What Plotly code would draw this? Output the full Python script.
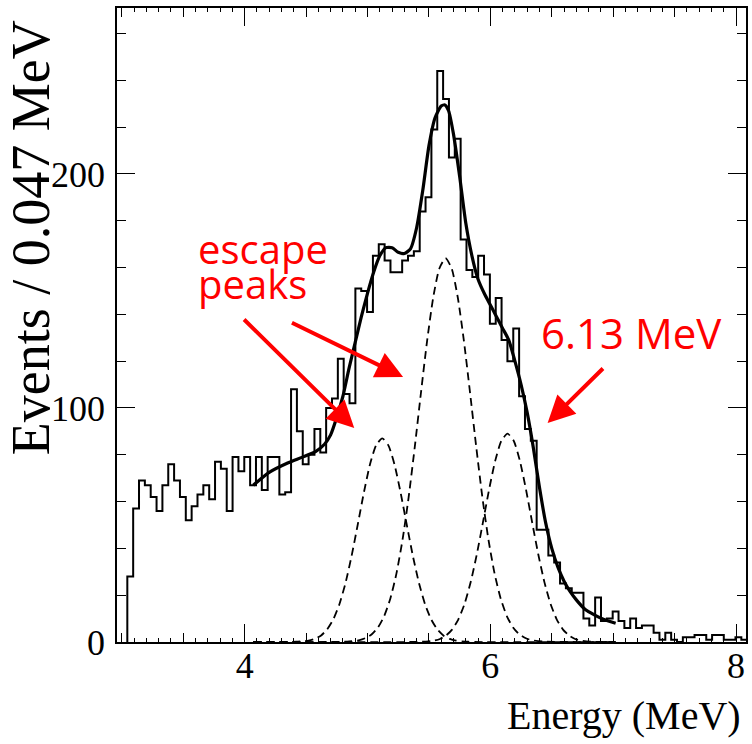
import numpy as np
import plotly.graph_objects as go

# ---------------- data ----------------
bin_start = 3.045          # MeV, left edge of first filled bin
bin_width = 0.0476         # MeV
counts = [28, 57, 69, 67, 62, 56, 67, 76, 69, 62, 52, 58, 63, 67, 61, 77, 74, 56, 79, 73, 79, 67,
          79, 65, 79, 79, 63, 64, 108, 90, 76, 80, 91, 81, 100, 104, 121, 106, 102, 151, 150, 141,
          165, 170, 163, 158, 158, 163, 165, 167,
          184, 190, 219, 244, 232, 207, 215, 172, 159, 156, 165, 157, 136, 147, 129, 120, 134, 105, 91, 86,
          48, 48, 37, 34, 25, 23, 21, 21, 10, 7, 19, 9, 10, 13, 9, 6, 10, 6, 7, 7,
          4, 1, 4, 1, 0, 2, 2, 3, 3, 1, 3, 3, 1, 1, 2, 1]

fit_E = [4.07, 4.20, 4.35, 4.47, 4.58, 4.65, 4.70, 4.75, 4.80, 4.85, 4.90, 4.95, 5.00, 5.05, 5.10,
         5.15, 5.20, 5.25, 5.30, 5.35, 5.40, 5.45, 5.50, 5.55, 5.60, 5.63, 5.66, 5.70, 5.75, 5.80,
         5.85, 5.90, 5.95, 6.00, 6.05, 6.10, 6.15, 6.20, 6.25, 6.30, 6.35, 6.40, 6.45, 6.50, 6.55,
         6.60, 6.65, 6.70, 6.77, 6.85, 6.93, 7.02]
fit_v = [67, 72.5, 76.5, 79, 81.5, 84.5, 88.5, 96, 105, 117, 128, 139, 149, 158, 165,
         168.5, 168.5, 166.5, 166, 168, 177, 193, 212, 224, 229, 229.5, 227, 217, 199, 179,
         165, 155, 149, 144, 139, 134, 129, 120, 110, 98, 83, 66, 51, 40, 32,
         26, 21.5, 18, 14, 11.5, 9.5, 8]

g1_E = [4.07, 4.42, 4.52, 4.57, 4.62, 4.67, 4.72, 4.77, 4.82, 4.87, 4.92, 4.97, 5.02, 5.07, 5.12,
        5.17, 5.22, 5.27, 5.32, 5.37, 5.42, 5.47, 5.52, 5.57, 5.62, 5.67, 5.72, 5.82, 7.02]
g1_v = [0, 0.1, 0.6, 1.3, 2.7, 5.3, 9.5, 15.9, 25.0, 36.6, 50.0, 63.7, 75.8, 84.0, 87,
        84.0, 75.8, 63.7, 50.0, 36.6, 25.0, 15.9, 9.5, 5.3, 2.7, 1.3, 0.6, 0.1, 0]

g2_E = [4.07, 4.835, 4.935, 4.985, 5.035, 5.085, 5.135, 5.185, 5.235, 5.285, 5.335, 5.385, 5.435,
        5.485, 5.535, 5.585, 5.635, 5.685, 5.735, 5.785, 5.835, 5.885, 5.935, 5.985, 6.035, 6.085,
        6.135, 6.185, 6.235, 6.285, 6.335, 6.435, 7.02]
g2_v = [0, 0.16, 0.8, 1.7, 3.3, 6.2, 11.0, 18.4, 29.1, 43.6, 61.9, 83.4, 106.4,
        128.6, 147.2, 159.6, 164, 159.6, 147.2, 128.6, 106.4, 83.4, 61.9, 43.6, 29.1, 18.4,
        11.0, 6.2, 3.3, 1.7, 0.8, 0.16, 0]

g3_E = [4.07, 5.44, 5.54, 5.59, 5.64, 5.69, 5.74, 5.79, 5.84, 5.89, 5.94, 5.99, 6.04, 6.09, 6.14,
        6.19, 6.24, 6.29, 6.34, 6.39, 6.44, 6.49, 6.54, 6.59, 6.64, 6.69, 6.74, 6.84, 7.02]
g3_v = [0, 0.1, 0.6, 1.3, 2.8, 5.4, 9.7, 16.3, 25.6, 37.5, 51.2, 65.2, 77.5, 86.0, 89,
        86.0, 77.5, 65.2, 51.2, 37.5, 25.6, 16.3, 9.7, 5.4, 2.8, 1.3, 0.6, 0.1, 0]

x_title = "Energy (MeV)"
y_title = "Events / 0.047 MeV"
label_escape = ["escape", "peaks"]
label_peak = "6.13 MeV"

# ---------------- geometry ----------------
W, H = 752, 744
L, R, T, B = 117, 4, 8, 102
PW, PH = W - L - R, H - T - B
XR = [2.961, 8.081]
YR = [0, 270.9]


def pxp(xp):
    return (xp - L) / PW


def pyp(yp):
    return (H - B - yp) / PH


def dx(xp):
    return XR[0] + (xp - L) / PW * (XR[1] - XR[0])


def dy(yp):
    return YR[0] + (H - B - yp) / PH * (YR[1] - YR[0])


edges = bin_start + bin_width * np.arange(len(counts) + 1)
hx = np.concatenate([[edges[0]], edges])
hy = [0] + counts + [counts[-1]]

fig = go.Figure()
for gE, gv in [(g1_E, g1_v), (g2_E, g2_v), (g3_E, g3_v)]:
    fig.add_trace(go.Scatter(x=gE, y=gv, mode="lines",
                             line=dict(color="black", width=1.8, dash="8px,5px", shape="spline", smoothing=0.6),
                             showlegend=False, hoverinfo="skip"))
fig.add_trace(go.Scatter(x=hx, y=hy, mode="lines",
                         line=dict(color="black", width=2, shape="hv"),
                         showlegend=False, hoverinfo="skip"))
fig.add_trace(go.Scatter(x=fit_E, y=fit_v, mode="lines",
                         line=dict(color="black", width=3.2, shape="spline", smoothing=0.6),
                         showlegend=False, hoverinfo="skip"))
# dummy trace to activate tertiary tick axis
fig.add_trace(go.Scatter(x=[None], y=[None], xaxis="x2", yaxis="y", showlegend=False, hoverinfo="skip"))

tickfont = dict(family="Liberation Serif", size=36, color="black")

fig.update_layout(
    width=W, height=H,
    margin=dict(l=L, r=R, t=T, b=B, pad=0),
    paper_bgcolor="white", plot_bgcolor="white",
    showlegend=False,
    xaxis=dict(range=XR, showgrid=False, zeroline=False,
               showline=True, linecolor="black", linewidth=1.5, mirror="ticks",
               ticks="inside", ticklen=18, tickwidth=1.2, tickcolor="black",
               tick0=0, dtick=2, tickfont=tickfont, ticklabelstandoff=-9,
               minor=dict(dtick=0.5, tick0=0, ticks="inside", ticklen=9, tickwidth=1.2,
                          tickcolor="black", showgrid=False)),
    xaxis2=dict(range=XR, overlaying="x", anchor="y", showgrid=False, zeroline=False,
                showline=False, mirror="ticks", ticks="inside", ticklen=4, tickwidth=1,
                tickcolor="black", tick0=0, dtick=0.1, showticklabels=False),
    yaxis=dict(range=YR, showgrid=False, zeroline=False,
               showline=True, linecolor="black", linewidth=1.5, mirror="ticks",
               ticks="inside", ticklen=18, tickwidth=1.2, tickcolor="black",
               tick0=0, dtick=100, tickfont=tickfont, ticklabelstandoff=3,
               minor=dict(dtick=20, tick0=0, ticks="inside", ticklen=9, tickwidth=1.2,
                          tickcolor="black", showgrid=False)),
)

ann = []
# axis titles
ann.append(dict(text=x_title, xref="paper", yref="paper", x=pxp(745), y=pyp(715),
                xanchor="right", yanchor="middle", showarrow=False,
                font=dict(family="Liberation Serif", size=40, color="black")))
ann.append(dict(text=y_title, xref="paper", yref="paper", x=pxp(31), y=pyp(238),
                xanchor="center", yanchor="middle", textangle=-90, showarrow=False,
                font=dict(family="Liberation Serif", size=54, color="black")))
# red labels
red = "#ff0000"
ann.append(dict(text=label_escape[0], xref="paper", yref="paper", x=pxp(196), y=pyp(249),
                xanchor="left", yanchor="middle", showarrow=False,
                font=dict(family="Open Sans", size=40, color=red)))
ann.append(dict(text=label_escape[1], xref="paper", yref="paper", x=pxp(196), y=pyp(283),
                xanchor="left", yanchor="middle", showarrow=False,
                font=dict(family="Open Sans", size=40, color=red)))
ann.append(dict(text=label_peak, xref="paper", yref="paper", x=pxp(633), y=pyp(333),
                xanchor="center", yanchor="middle", showarrow=False,
                font=dict(family="Open Sans", size=42, color=red)))
# red arrows (tail pixel -> head pixel)
for (tx, ty, hx_, hy_) in [(243, 318, 355, 428), (291, 322, 404, 377), (606, 367, 549, 423)]:
    ann.append(dict(x=dx(hx_), y=dy(hy_), ax=dx(tx), ay=dy(ty), xref="x", yref="y",
                    axref="x", ayref="y", text="", showarrow=True, arrowhead=2,
                    arrowsize=1.35, arrowwidth=4, arrowcolor=red, standoff=0))
fig.update_layout(annotations=ann)

fig.write_html("out.html")
